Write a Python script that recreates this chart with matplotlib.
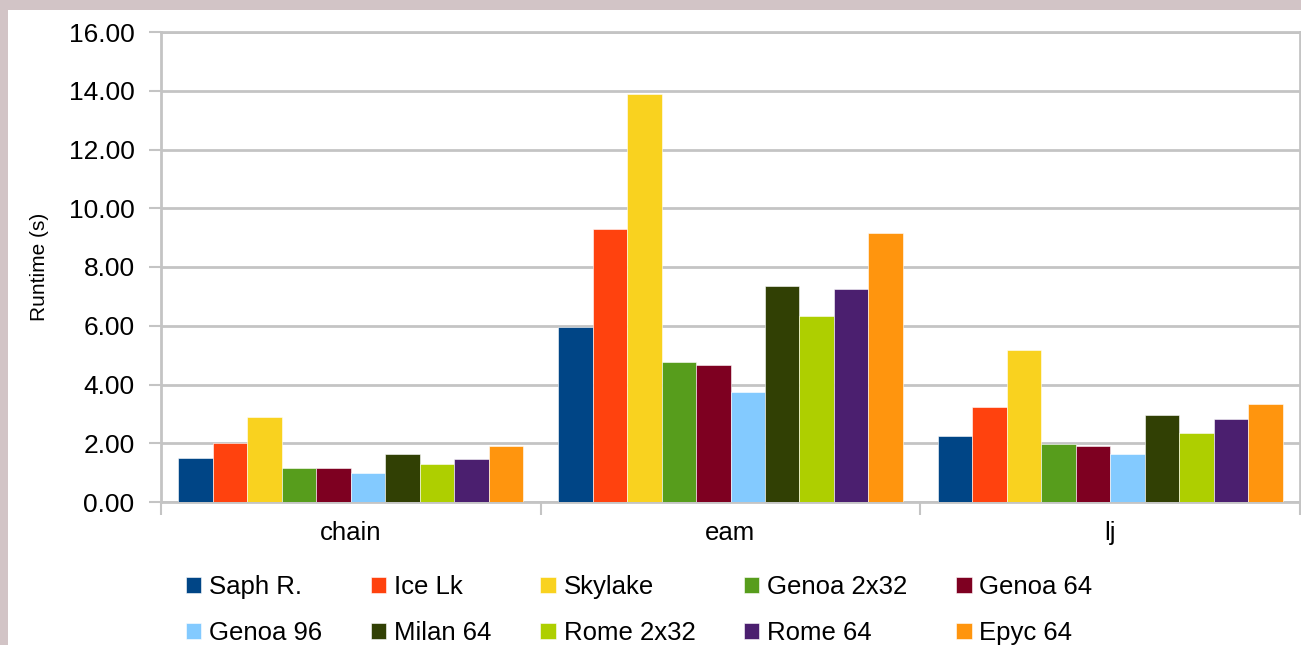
import numpy as np
import matplotlib.pyplot as plt
from matplotlib.patches import Rectangle

plt.rcParams['font.family'] = ['Liberation Sans', 'DejaVu Sans']

benchmarks = ['chain', 'eam', 'lj']
systems = ['Saph R.', 'Ice Lk', 'Skylake', 'Genoa 2x32', 'Genoa 64',
           'Genoa 96', 'Milan 64', 'Rome 2x32', 'Rome 64', 'Epyc 64']
colors = ['#004586', '#ff420e', '#f9d21f', '#579d1c', '#7e0021',
          '#83caff', '#314004', '#aecf00', '#4b1f6f', '#ff950e']

# runtime (s) per system, one value per benchmark (chain, eam, lj)
saph_r = [1.51, 5.97, 2.26]
ice_lk = [2.00, 9.30, 3.22]
skylake = [2.88, 13.89, 5.19]
genoa_2x32 = [1.17, 4.76, 1.97]
genoa_64 = [1.15, 4.68, 1.90]
genoa_96 = [1.00, 3.75, 1.63]
milan_64 = [1.65, 7.37, 2.97]
rome_2x32 = [1.28, 6.33, 2.34]
rome_64 = [1.45, 7.26, 2.81]
epyc_64 = [1.90, 9.15, 3.34]
runtimes = [saph_r, ice_lk, skylake, genoa_2x32, genoa_64,
            genoa_96, milan_64, rome_2x32, rome_64, epyc_64]

W, H = 1301, 645
fig = plt.figure(figsize=(W / 100, H / 100), dpi=100)
fig.patch.set_facecolor('#d2c4c6')
bg = Rectangle((8 / W, 0), 1, 1 - 10 / H, transform=fig.transFigure,
               facecolor='white', edgecolor='none')
bg.set_zorder(-10)
fig.add_artist(bg)

ax = fig.add_axes([161 / W, 1 - 502 / H, (1300 - 161) / W, (502 - 32) / H])
ax.set_facecolor('white')

x = np.arange(len(benchmarks))
width = 0.0908
bars = []
for i, (name, vals) in enumerate(zip(systems, runtimes)):
    b = ax.bar(x + (i - 4.5) * width, vals, width, color=colors[i], label=name,
               edgecolor='white', linewidth=0.4, zorder=3)
    bars.append(b)

ax.set_xlim(-0.5, 2.5)
ax.set_ylim(0, 16)
ax.set_yticks(np.arange(0, 17, 2))
ax.set_yticklabels([f'{v:.2f}' for v in np.arange(0, 17, 2)])
ax.set_xticks(x)
ax.set_xticklabels(benchmarks)
ax.set_xticks([-0.5, 0.5, 1.5, 2.5], minor=True)

grid_c = '#c4c4c4'
ax.yaxis.grid(True, color=grid_c, linewidth=2, zorder=0)
ax.set_axisbelow(True)
for s in ax.spines.values():
    s.set_color(grid_c)
    s.set_linewidth(2)

ax.tick_params(axis='y', labelsize=19, length=9, width=1.5, color=grid_c, pad=10)
ax.tick_params(axis='x', which='major', labelsize=18.5, length=0, pad=14)
ax.tick_params(axis='x', which='minor', length=9, width=1.5, color=grid_c)
ax.set_ylabel('Runtime (s)', fontsize=15, labelpad=14)

# legend fills column-wise, so interleave the two rows
order = [0, 5, 1, 6, 2, 7, 3, 8, 4, 9]
fig.legend([bars[i] for i in order], [systems[i] for i in order],
           loc='upper left', bbox_to_anchor=(186 / W, 1 - 575 / H), ncol=5,
           frameon=False, fontsize=18.5, handlelength=0.6, handleheight=0.6,
           handletextpad=0.3, columnspacing=1.9, labelspacing=0.85,
           borderpad=0, borderaxespad=0)

fig.savefig('out.png', dpi=100)
